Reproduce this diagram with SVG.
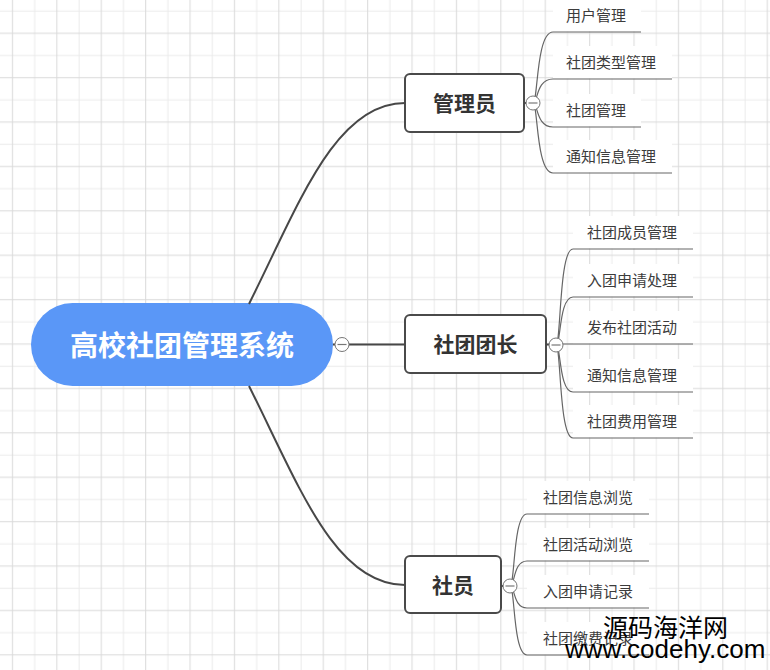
<svg xmlns="http://www.w3.org/2000/svg" width="770" height="670" viewBox="0 0 770 670">
<defs>
<pattern id="grid" patternUnits="userSpaceOnUse" x="0" y="0" width="44.4" height="44.4">
<line x1="0" y1="11.1" x2="44.4" y2="11.1" stroke="#ebebeb" stroke-width="1"/>
<line x1="34.7" y1="0" x2="34.7" y2="44.4" stroke="#ebebeb" stroke-width="1"/>
<line x1="0" y1="33.3" x2="44.4" y2="33.3" stroke="#d9d9d9" stroke-width="1"/>
<line x1="12.5" y1="0" x2="12.5" y2="44.4" stroke="#d9d9d9" stroke-width="1"/>
</pattern>
<style>
.main{fill:none;stroke:#474747;stroke-width:2}
.br{fill:none;stroke:#666;stroke-width:1.2}
.box{fill:#fff;stroke:#4a4a4a;stroke-width:2}
.lbg{fill:#fff}
.nt{font-family:"Noto Sans CJK SC","Noto Sans",sans-serif;font-weight:bold;font-size:21px;fill:#333;text-anchor:middle}
.ct{font-family:"Noto Sans CJK SC","Noto Sans",sans-serif;font-size:15px;fill:#3c3c3c}
.tog{fill:#fff;stroke:#777;stroke-width:1}
.tm{stroke:#777;stroke-width:1.2}
</style>
</defs>
<rect x="0" y="0" width="770" height="670" fill="#fff"/>
<rect x="0" y="0" width="770" height="670" fill="url(#grid)"/>

<g id="root">
<rect x="31" y="303" width="302" height="83" rx="41.5" fill="#5a97f7"/>
<text x="182" y="356" font-family="'Noto Sans CJK SC','Noto Sans',sans-serif" font-weight="bold" font-size="28" fill="#fff" text-anchor="middle">高校社团管理系统</text>
</g>

<g id="admin"><rect class="box" x="405" y="74" width="119" height="58" rx="5"/><text class="nt" x="464.5" y="111">管理员</text></g>
<g id="leader"><rect class="box" x="405" y="315" width="141" height="58" rx="5"/><text class="nt" x="475.5" y="352">社团团长</text></g>
<g id="member"><rect class="box" x="405" y="556" width="96" height="57" rx="5"/><text class="nt" x="453" y="593">社员</text></g>

<g id="a1"><rect class="lbg" x="553" y="0" width="88" height="31.5"/><text class="ct" x="566" y="21">用户管理</text></g>
<g id="a2"><rect class="lbg" x="553" y="46" width="119" height="32.5"/><text class="ct" x="566" y="68">社团类型管理</text></g>
<g id="a3"><rect class="lbg" x="553" y="94" width="88" height="32.5"/><text class="ct" x="566" y="116">社团管理</text></g>
<g id="a4"><rect class="lbg" x="553" y="140" width="119" height="32.5"/><text class="ct" x="566" y="162">通知信息管理</text></g>

<g id="l1"><rect class="lbg" x="573" y="216" width="120" height="32.5"/><text class="ct" x="587" y="238">社团成员管理</text></g>
<g id="l2"><rect class="lbg" x="573" y="264" width="120" height="32.5"/><text class="ct" x="587" y="286">入团申请处理</text></g>
<g id="l3"><rect class="lbg" x="573" y="311" width="120" height="32.5"/><text class="ct" x="587" y="333">发布社团活动</text></g>
<g id="l4"><rect class="lbg" x="573" y="359" width="120" height="32.5"/><text class="ct" x="587" y="381">通知信息管理</text></g>
<g id="l5"><rect class="lbg" x="573" y="405" width="120" height="32.5"/><text class="ct" x="587" y="427">社团费用管理</text></g>

<g id="m1"><rect class="lbg" x="527" y="481" width="122" height="32.5"/><text class="ct" x="543" y="503">社团信息浏览</text></g>
<g id="m2"><rect class="lbg" x="527" y="528" width="122" height="32.5"/><text class="ct" x="543" y="550">社团活动浏览</text></g>
<g id="m3"><rect class="lbg" x="527" y="575" width="122" height="32.5"/><text class="ct" x="543" y="597">入团申请记录</text></g>
<g id="m4"><rect class="lbg" x="527" y="622" width="122" height="32.5"/><text class="ct" x="543" y="644">社团缴费记录</text></g>

<g id="connectors">
<path class="main" d="M249,304 C299,204 335,103 405,103"/>
<path class="main" d="M249,386 C299,486 335,585 405,585"/>
<path class="main" d="M333,344.5 H405"/>
<path class="main" d="M524,103 H528"/>
<path class="main" d="M546,344.5 H550"/>
<path class="main" d="M501,586 H505"/>

<path class="br" d="M533,103 C538,103 536,32 553,32 H641"/>
<path class="br" d="M533,103 C538,103 536,79 553,79 H672"/>
<path class="br" d="M533,103 C538,103 536,127 553,127 H641"/>
<path class="br" d="M533,103 C538,103 536,173 553,173 H672"/>

<path class="br" d="M556,345 C561,345 559,249 573,249 H693"/>
<path class="br" d="M556,345 C561,345 559,297 573,297 H693"/>
<path class="br" d="M556,344 H693"/>
<path class="br" d="M556,345 C561,345 559,392 573,392 H693"/>
<path class="br" d="M556,345 C561,345 559,438 573,438 H693"/>

<path class="br" d="M510,586 C515,586 513,514 527,514 H649"/>
<path class="br" d="M510,586 C515,586 513,561 527,561 H649"/>
<path class="br" d="M510,586 C515,586 513,608 527,608 H649"/>
<path class="br" d="M510,586 C515,586 513,655 527,655 H649"/>
</g>

<g id="toggles">
<circle class="tog" cx="342" cy="344.5" r="7"/><line class="tm" x1="337.5" y1="344.5" x2="346.5" y2="344.5"/>
<circle class="tog" cx="533" cy="103" r="7"/><line class="tm" x1="528.5" y1="103" x2="537.5" y2="103"/>
<circle class="tog" cx="556" cy="345" r="7"/><line class="tm" x1="551.5" y1="345" x2="560.5" y2="345"/>
<circle class="tog" cx="510" cy="586" r="7"/><line class="tm" x1="505.5" y1="586" x2="514.5" y2="586"/>
</g>

<text x="603" y="637" font-family="'Noto Sans CJK SC','Noto Sans',sans-serif" font-size="25" fill="#000">源码海洋网</text>
<text x="565" y="658" font-family="'Liberation Sans',Arial,sans-serif" font-size="26" fill="#000">www.codehy.com</text>
</svg>
